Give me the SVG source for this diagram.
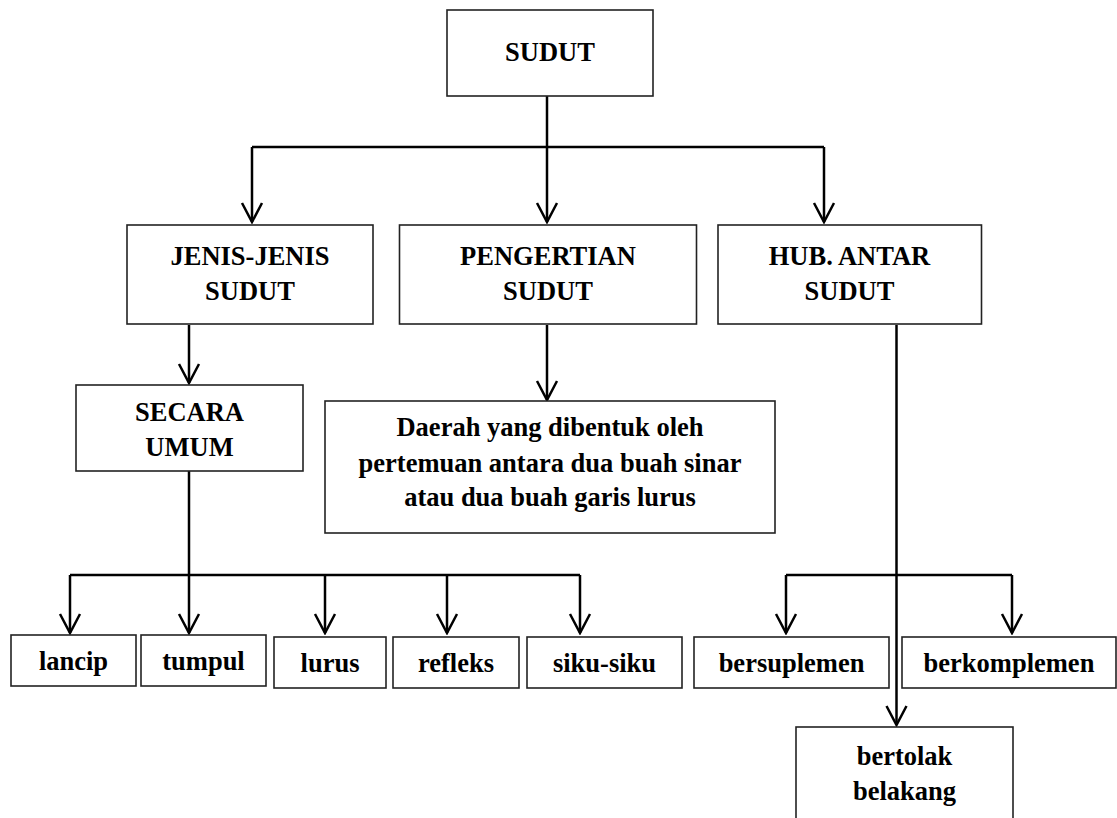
<svg xmlns="http://www.w3.org/2000/svg" width="1117" height="818" viewBox="0 0 1117 818">
<style>
.box{fill:#fff;stroke:#222;stroke-width:1.6}
.t{font-family:"Liberation Serif","Times New Roman",serif;font-weight:bold;font-size:26.5px;fill:#000;text-anchor:middle}
.c{fill:none;stroke:#000;stroke-width:2.5}
</style>
<defs>
<marker id="arr" markerUnits="userSpaceOnUse" viewBox="-22 -12 24 24" refX="0" refY="0" markerWidth="24" markerHeight="24" orient="auto">
<path d="M-19,-10 L0,0 L-19,10" fill="none" stroke="#000" stroke-width="2.5"/>
</marker>
</defs>
<rect width="1117" height="818" fill="#fff"/>
<g id="connectors">
<path class="c" d="M547,96 V222" marker-end="url(#arr)"/>
<path class="c" d="M252,147 H824"/>
<path class="c" d="M252,147 V222" marker-end="url(#arr)"/>
<path class="c" d="M824,147 V222" marker-end="url(#arr)"/>
<path class="c" d="M189,325 V383" marker-end="url(#arr)"/>
<path class="c" d="M547,325 V400" marker-end="url(#arr)"/>
<path class="c" d="M189,471 V633" marker-end="url(#arr)"/>
<path class="c" d="M70,575 H580"/>
<path class="c" d="M70,575 V633" marker-end="url(#arr)"/>
<path class="c" d="M325,575 V633" marker-end="url(#arr)"/>
<path class="c" d="M447,575 V633" marker-end="url(#arr)"/>
<path class="c" d="M580,575 V633" marker-end="url(#arr)"/>
<path class="c" d="M896.5,325 V725" marker-end="url(#arr)"/>
<path class="c" d="M786,575 H1012"/>
<path class="c" d="M786,575 V633" marker-end="url(#arr)"/>
<path class="c" d="M1012,575 V633" marker-end="url(#arr)"/>
</g>
<g id="sudut"><rect class="box" x="447" y="10" width="206" height="86"/><text class="t" x="550" y="61">SUDUT</text></g>
<g id="jenis"><rect class="box" x="127" y="225" width="246" height="99"/><text class="t" x="250" y="265">JENIS-JENIS</text><text class="t" x="250" y="300">SUDUT</text></g>
<g id="pengertian"><rect class="box" x="399.5" y="225" width="297" height="99"/><text class="t" x="548" y="265">PENGERTIAN</text><text class="t" x="548" y="300">SUDUT</text></g>
<g id="hub"><rect class="box" x="718" y="225" width="263.5" height="99"/><text class="t" x="849.5" y="265">HUB. ANTAR</text><text class="t" x="849.5" y="300">SUDUT</text></g>
<g id="secara"><rect class="box" x="76" y="385" width="227" height="86"/><text class="t" x="189.5" y="421">SECARA</text><text class="t" x="189.5" y="456">UMUM</text></g>
<g id="daerah"><rect class="box" x="325" y="401" width="450" height="132"/><text class="t" x="550" y="436">Daerah yang dibentuk oleh</text><text class="t" x="550" y="471.5">pertemuan antara dua buah sinar</text><text class="t" x="550" y="506">atau dua buah garis lurus</text></g>
<g id="lancip"><rect class="box" x="11" y="635" width="125" height="51"/><text class="t" x="73.5" y="670">lancip</text></g>
<g id="tumpul"><rect class="box" x="141" y="635" width="125" height="51"/><text class="t" x="203.5" y="670">tumpul</text></g>
<g id="lurus"><rect class="box" x="274" y="637" width="112" height="51"/><text class="t" x="330" y="672">lurus</text></g>
<g id="refleks"><rect class="box" x="393" y="637" width="126" height="51"/><text class="t" x="456" y="672">refleks</text></g>
<g id="siku"><rect class="box" x="527" y="637" width="155" height="51"/><text class="t" x="604.5" y="672">siku-siku</text></g>
<g id="bersuplemen"><rect class="box" x="694" y="637" width="195" height="51"/><text class="t" x="791.5" y="672">bersuplemen</text></g>
<g id="berkomplemen"><rect class="box" x="902" y="637" width="214" height="51"/><text class="t" x="1009" y="672">berkomplemen</text></g>
<g id="bertolak"><rect class="box" x="796" y="727" width="217" height="120"/><text class="t" x="904.5" y="765">bertolak</text><text class="t" x="904.5" y="800">belakang</text></g>
</svg>
